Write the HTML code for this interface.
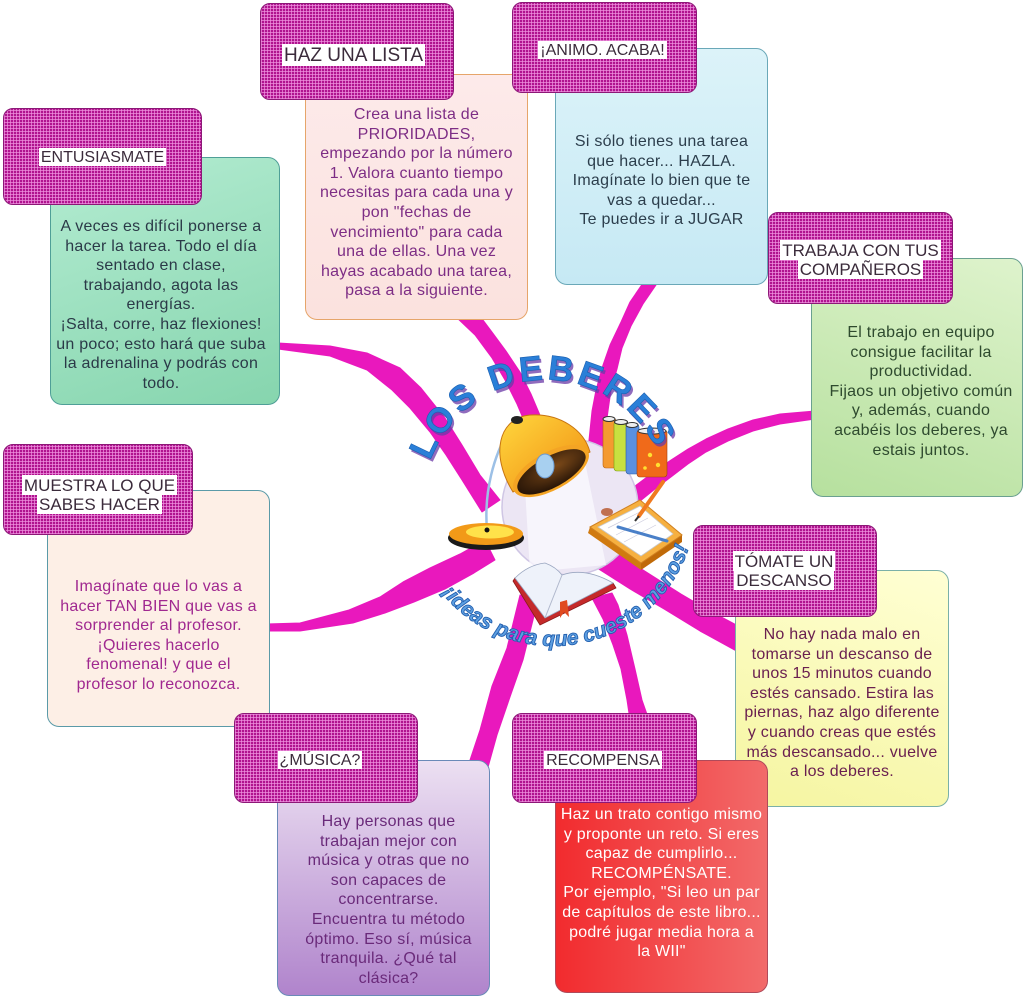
<!DOCTYPE html>
<html><head><meta charset="utf-8">
<style>
body{margin:0;width:1024px;height:995px;overflow:hidden;background:#fff;position:relative;font-family:"Liberation Sans",Arial,sans-serif;}
.box{position:absolute;border-radius:12px;border:1.5px solid #5a9ea6;box-sizing:border-box;}
.txt{position:absolute;left:0;right:0;text-align:center;font-size:16px;line-height:19.6px;letter-spacing:0.25px;white-space:nowrap;}
.hdr{position:absolute;border-radius:10px;border:1px solid #8c1877;box-sizing:border-box;background-color:#b0148f;
background-image:repeating-linear-gradient(0deg,rgba(240,150,225,.7) 0 1px,transparent 1px 3px),repeating-linear-gradient(90deg,rgba(240,150,225,.7) 0 1px,transparent 1px 3px);
display:flex;align-items:center;justify-content:center;}
.lab{font-size:16px;line-height:19px;color:#3b2b3b;text-align:center;white-space:nowrap;}
.lab span{background:#fff;padding:1px 2px 0;}
</style></head><body>

<svg width="1024" height="995" style="position:absolute;left:0;top:0" xmlns="http://www.w3.org/2000/svg">
<defs>
<path id="arcTop" d="M426,529.9 A123,123 0 1,1 668,518.7"/>
<path id="arcBot" d="M410,503.9 A143,143 0 1,0 687.1,453.3"/>
<linearGradient id="shade" x1="0" y1="0" x2="1" y2="1"><stop offset="0" stop-color="#ffd83e"/><stop offset="1" stop-color="#f08a10"/></linearGradient>
<radialGradient id="inside" cx="0.6" cy="0.4" r="0.7"><stop offset="0" stop-color="#7a4818"/><stop offset="1" stop-color="#1e0f05"/></radialGradient>
</defs>
<g fill="#e918bd" stroke="#e918bd" stroke-width="1" stroke-linejoin="round">
<path d="M278,343 L330,346 L367,353 L400,368 L421,388 L445,418 L462,445 L480,475 L500,500 L482,512 L462,480 L446,455 L430,432 L410,408 L392,390 L367,370 L330,356 L278,349 Z"/>
<path d="M455,316 L475,335 L492,358 L505,380 L517,404 L528,430 L536,455 L552,450 L542,420 L531,394 L520,372 L506,351 L492,332 L480,316 Z"/>
<path d="M643,283 L630,302 L621,322 L610,345 L603,365 L596,390 L592,411 L589,440 L588,462 L605,462 L604,440 L608,411 L611,390 L617,369 L622,348 L631,326 L643,304 L656,285 Z"/>
<path d="M815,411 L780,414 L753,420 L728,429 L706,439 L688,449 L671,460 L655,471 L639,483 L622,496 L630,512 L639,502 L655,489 L671,477 L688,464 L706,452 L728,441 L753,431 L780,424 L815,419 Z"/>
<path d="M605,546 L640,568 L681,594 L710,611 L742,628 L742,654 L700,631 L664,609 L630,589 L597,568 Z"/>
<path d="M592,598 L603,619 L613,645 L621,669 L627,700 L630,720 L649,720 L642,700 L635,669 L627,635 L618,605 L612,593 Z"/>
<path d="M520,595 L507,648 L492,686 L480,730 L466,772 L485,778 L497,735 L510,697 L523,660 L538,600 Z"/>
<path d="M266,624 L300,623 L349,610 L380,597 L403,582 L430,568 L460,554 L485,540 L495,560 L474,573 L445,589 L414,602 L385,613 L353,623 L300,631 L266,631 Z"/>
</g>
<circle cx="570" cy="507" r="68" fill="#ece6f4" stroke="#cfc6e4" stroke-width="1.5"/>
<polygon points="525,488 585,462 606,565 530,572" fill="#fbfaff" opacity="0.75"/>
<!-- lamp arm -->
<path d="M487,530 C484,495 492,455 513,424" fill="none" stroke="#9cc0e6" stroke-width="2.5"/>
<!-- lamp base -->
<ellipse cx="486" cy="538" rx="38" ry="12" fill="#1a1a1a"/>
<ellipse cx="486" cy="534" rx="37" ry="11" fill="#f29a18"/>
<ellipse cx="490" cy="532" rx="24" ry="6.5" fill="#ffe24a"/>
<circle cx="487" cy="530" r="2.5" fill="#111"/>
<!-- shade -->
<path d="M513,492 C490,455 498,418 530,415 C560,413 584,430 590,452 Z" fill="url(#shade)" stroke="#c77410" stroke-width="1"/>
<g transform="rotate(-28.6 551 471)">
<ellipse cx="551" cy="471" rx="42" ry="19" fill="#f4a424"/>
<ellipse cx="551" cy="472" rx="38" ry="15.5" fill="url(#inside)"/>
</g>
<ellipse cx="517" cy="420" rx="6" ry="4" fill="#222"/>
<ellipse cx="545" cy="466" rx="9" ry="12" fill="#a8d0f0" stroke="#6a9ad0" stroke-width="1"/>
<!-- books -->
<rect x="603" y="418" width="13" height="50" rx="3" fill="#f49a30" stroke="#b86010" stroke-width=".6"/>
<rect x="614" y="421" width="14" height="50" rx="3" fill="#c8e040" stroke="#7a9a10" stroke-width=".6"/>
<rect x="626" y="424" width="13" height="50" rx="3" fill="#5a90e0" stroke="#2a5aa0" stroke-width=".6"/>
<rect x="637" y="430" width="30" height="47" rx="3" fill="#f06a1a" stroke="#a04010" stroke-width=".6"/>
<ellipse cx="609" cy="419" rx="6" ry="2.5" fill="#eee" stroke="#333" stroke-width="1"/>
<ellipse cx="621" cy="422" rx="6.5" ry="2.5" fill="#eee" stroke="#333" stroke-width="1"/>
<ellipse cx="632" cy="425" rx="6" ry="2.5" fill="#eee" stroke="#333" stroke-width="1"/>
<ellipse cx="652" cy="431" rx="14" ry="3" fill="#eee" stroke="#333" stroke-width="1"/>
<circle cx="650" cy="455" r="2.2" fill="#ffe030"/><circle cx="658" cy="465" r="2.2" fill="#ffe030"/><circle cx="645" cy="468" r="1.8" fill="#ffe030"/>
<!-- clipboard -->
<polygon points="590,527 641,563 641,570 588,533" fill="#d07a10"/>
<polygon points="641,563 682,535 682,542 641,570" fill="#c06a08"/>
<polygon points="590,527 640,500 682,535 641,563" fill="#f6b040" stroke="#d08020" stroke-width="1"/>
<polygon points="598,527 640,506 673,534 641,556" fill="#fff" stroke="#c8c8c8" stroke-width=".8"/>
<line x1="608" y1="528" x2="640" y2="512" stroke="#ccd" stroke-width=".7"/>
<line x1="616" y1="535" x2="648" y2="518" stroke="#ccd" stroke-width=".7"/>
<line x1="624" y1="542" x2="656" y2="525" stroke="#ccd" stroke-width=".7"/>
<ellipse cx="607" cy="512" rx="6" ry="4" fill="#c07050"/>
<line x1="618" y1="527" x2="667" y2="541" stroke="#4a80c8" stroke-width="3" stroke-linecap="round"/>
<line x1="663" y1="482" x2="639" y2="516" stroke="#f07a20" stroke-width="4" stroke-linecap="round"/>
<line x1="639" y1="516" x2="635" y2="521" stroke="#333" stroke-width="2"/>
<!-- open book -->
<path d="M513,581 L540,625 L616,588 L613,583 L545,618 L515,578 Z" fill="#c42a2a" stroke="#8a1a1a" stroke-width=".8"/>
<path d="M515,578 Q528,565 545,563 Q556,567 562,575 Q585,567 613,583 L545,618 Z" fill="#eef2fa" stroke="#9aa6c0" stroke-width=".8"/>
<line x1="562" y1="575" x2="545" y2="618" stroke="#b0b8cc" stroke-width="1"/>
<polygon points="560,602 567,600 569,617 564,612 560,618" fill="#e04a20"/>
<!-- title -->
<text font-family="Liberation Sans, sans-serif" font-weight="bold" font-size="35" letter-spacing="3.5" fill="#6b3aa8" opacity="0.75" transform="translate(2,3)"><textPath href="#arcTop" startOffset="50%" text-anchor="middle">LOS DEBERES</textPath></text>
<text font-family="Liberation Sans, sans-serif" font-weight="bold" font-size="35" letter-spacing="3.5" fill="#2a7fd8" stroke="#1a5fb0" stroke-width=".6"><textPath href="#arcTop" startOffset="50%" text-anchor="middle">LOS DEBERES</textPath></text>
<text font-family="Liberation Sans, sans-serif" font-style="italic" font-weight="bold" font-size="21" fill="#5c9fe2" stroke="#235fae" stroke-width=".9"><textPath href="#arcBot" startOffset="50%" text-anchor="middle">¡ideas para que cueste menos!</textPath></text>
</svg>

<!-- content boxes -->
<div class="box" style="left:50px;top:157px;width:230px;height:248px;background:linear-gradient(160deg,#b4ecd2,#86d5ae);border-color:#4f9f97;">
<div class="txt" style="top:59px;right:8px;color:#2b3a48;">A veces es difícil ponerse a<br>hacer la tarea. Todo el día<br>sentado en clase,<br>trabajando, agota las<br>energías.<br>¡Salta, corre, haz flexiones!<br>un poco; esto hará que suba<br>la adrenalina y podrás con<br>todo.</div></div>

<div class="box" style="left:305px;top:74px;width:223px;height:246px;background:linear-gradient(180deg,#fdeaea,#fbe2de);border-color:#e6a56a;">
<div class="txt" style="top:30px;color:#7d2d85;">Crea una lista de<br>PRIORIDADES,<br>empezando por la número<br>1. Valora cuanto tiempo<br>necesitas para cada una y<br>pon "fechas de<br>vencimiento" para cada<br>una de ellas. Una vez<br>hayas acabado una tarea,<br>pasa a la siguiente.</div></div>

<div class="box" style="left:555px;top:48px;width:213px;height:237px;background:linear-gradient(180deg,#dcf3f9,#c6e9f4);border-color:#6aa8b8;">
<div class="txt" style="top:83px;color:#2c3e4c;">Si sólo tienes una tarea<br>que hacer... HAZLA.<br>Imagínate lo bien que te<br>vas a quedar...<br>Te puedes ir a JUGAR</div></div>

<div class="box" style="left:811px;top:258px;width:212px;height:239px;background:linear-gradient(200deg,#def3cc,#b6e09e);border-color:#6aa090;">
<div class="txt" style="top:64px;left:8px;color:#2e4a2e;">El trabajo en equipo<br>consigue facilitar la<br>productividad.<br>Fijaos un objetivo común<br>y, además, cuando<br>acabéis los deberes, ya<br>estais juntos.</div></div>

<div class="box" style="left:735px;top:570px;width:214px;height:237px;background:linear-gradient(200deg,#ffffd4,#f5f5a0);border-color:#7ab0a8;">
<div class="txt" style="top:54px;color:#6a2050;">No hay nada malo en<br>tomarse un descanso de<br>unos 15 minutos cuando<br>estés cansado. Estira las<br>piernas, haz algo diferente<br>y cuando creas que estés<br>más descansado... vuelve<br>a los deberes.</div></div>

<div class="box" style="left:555px;top:760px;width:213px;height:233px;background:linear-gradient(90deg,#f22b2e,#f26a6a);border-color:#b04a5a;">
<div class="txt" style="top:44px;color:#fff;">Haz un trato contigo mismo<br>y proponte un reto. Si eres<br>capaz de cumplirlo...<br>RECOMPÉNSATE.<br>Por ejemplo, "Si leo un par<br>de capítulos de este libro...<br>podré jugar media hora a<br>la WII"</div></div>

<div class="box" style="left:277px;top:760px;width:213px;height:236px;background:linear-gradient(180deg,#ece0f2,#b084cc);border-color:#6a8ab8;">
<div class="txt" style="top:51px;left:10px;color:#6a2a7a;">Hay personas que<br>trabajan mejor con<br>música y otras que no<br>son capaces de<br>concentrarse.<br>Encuentra tu método<br>óptimo. Eso sí, música<br>tranquila. ¿Qué tal<br>clásica?</div></div>

<div class="box" style="left:47px;top:490px;width:223px;height:237px;background:#fdefe6;border-color:#5a9aa8;">
<div class="txt" style="top:86px;color:#a02890;">Imagínate que lo vas a<br>hacer TAN BIEN que vas a<br>sorprender al profesor.<br>¡Quieres hacerlo<br>fenomenal! y que el<br>profesor lo reconozca.</div></div>

<!-- headers -->
<div class="hdr" style="left:3px;top:108px;width:199px;height:97px;"><div class="lab" style="margin-top:1px"><span>ENTUSIASMATE</span></div></div>
<div class="hdr" style="left:260px;top:3px;width:194px;height:97px;"><div class="lab" style="font-size:19px;line-height:20px;margin-top:9px;margin-right:7px"><span>HAZ UNA LISTA</span></div></div>
<div class="hdr" style="left:512px;top:2px;width:185px;height:91px;"><div class="lab" style="margin-top:5px;margin-right:4px"><span>¡ANIMO. ACABA!</span></div></div>
<div class="hdr" style="left:768px;top:212px;width:185px;height:92px;"><div class="lab" style="font-size:17px;margin-top:4px"><span>TRABAJA CON TUS</span><br><span>COMPAÑEROS</span></div></div>
<div class="hdr" style="left:693px;top:525px;width:184px;height:92px;"><div class="lab" style="font-size:17px;margin-right:2px"><span>TÓMATE UN</span><br><span>DESCANSO</span></div></div>
<div class="hdr" style="left:512px;top:713px;width:185px;height:90px;"><div class="lab" style="margin-top:4px;margin-right:3px"><span>RECOMPENSA</span></div></div>
<div class="hdr" style="left:234px;top:713px;width:184px;height:90px;"><div class="lab" style="margin-top:4px;margin-right:12px"><span>¿MÚSICA?</span></div></div>
<div class="hdr" style="left:3px;top:444px;width:190px;height:91px;"><div class="lab" style="font-size:17px;margin-top:11px;margin-left:3px"><span>MUESTRA LO QUE</span><br><span>SABES HACER</span></div></div>

</body></html>
